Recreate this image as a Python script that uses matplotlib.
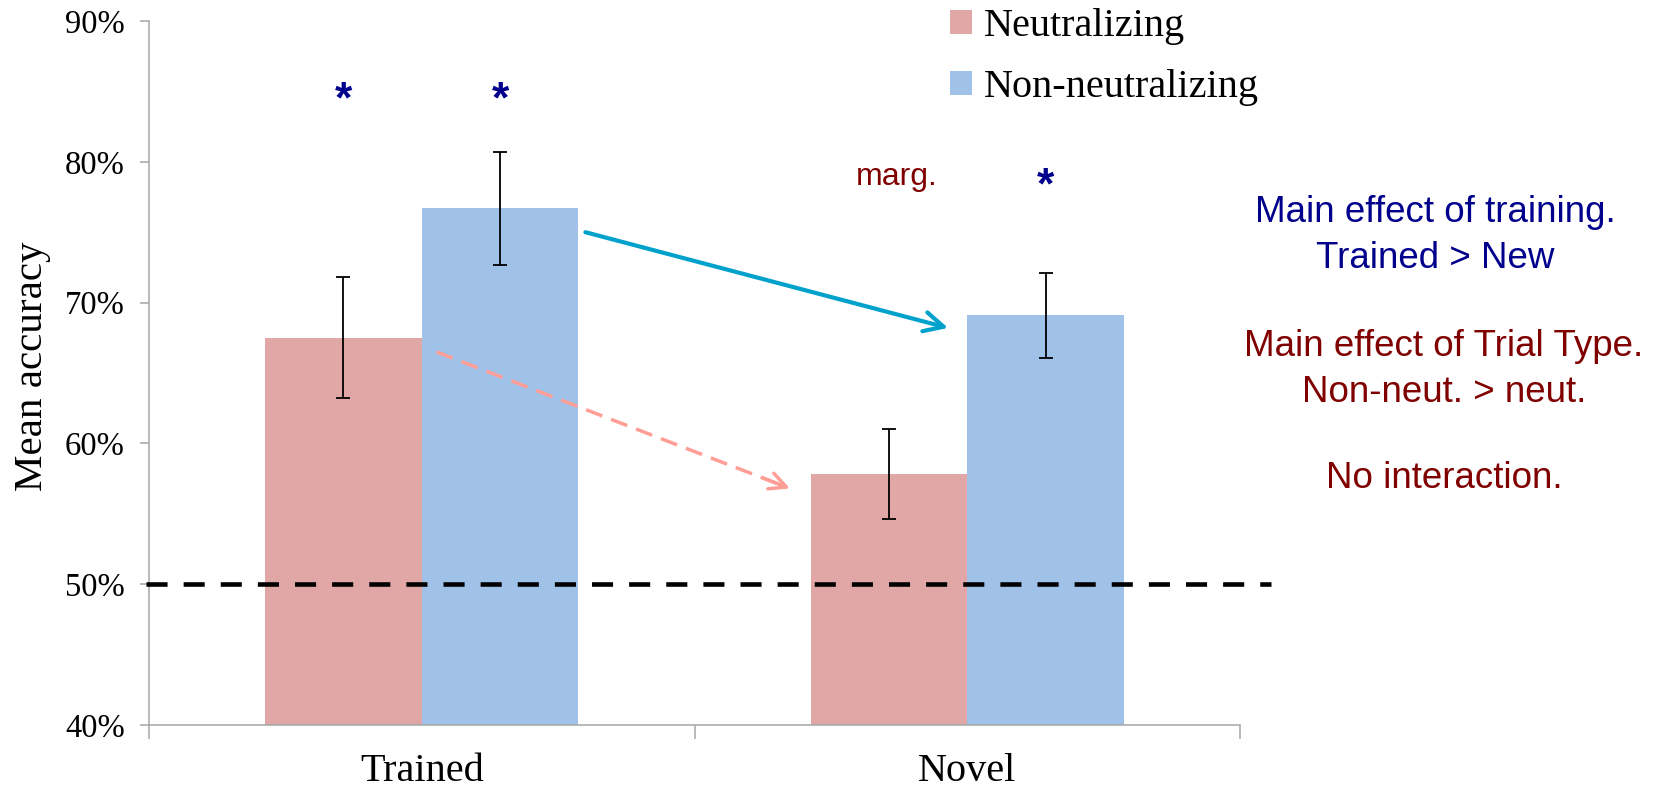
import numpy as np
import matplotlib.pyplot as plt

# ---- data ----
categories = ['Trained', 'Novel']
series = ['Neutralizing', 'Non-neutralizing']
neut_mean = [67.5, 57.8]
neut_err = [4.3, 3.2]
nonneut_mean = [76.7, 69.1]
nonneut_err = [4.0, 3.0]
yticks = [40, 50, 60, 70, 80, 90]
chance = 50

# significance marks: (x, y, text, colour)
sig_marks = [(0 - 0.1435, 84.3, '*', '#00008C'),
             (0 + 0.1435, 84.3, '*', '#00008C'),
             (1 - 0.130, 78.9, 'marg.', '#800000'),
             (1 + 0.1435, 78.2, '*', '#00008C')]

# arrows: (start, end)
blue_arrow = ((0.300, 75.0), (0.965, 68.2))
pink_arrow = ((0.027, 66.5), (0.675, 56.8))

notes = [('Main effect of training.', 1435, 212, '#00008C'),
         ('Trained > New', 1435, 258, '#00008C'),
         ('Main effect of Trial Type.', 1444, 346, '#800000'),
         ('Non-neut. > neut.', 1444, 392, '#800000'),
         ('No interaction.', 1444, 478, '#800000')]

pink = '#E1A7A6'
blue = '#A0C2E9'
grey = '#A6A6A6'
serif = ['Liberation Serif', 'DejaVu Serif']
sans = ['Liberation Sans', 'DejaVu Sans']

W, H = 1665, 791
fig = plt.figure(figsize=(W / 100, H / 100), dpi=100)
ax = fig.add_axes([149 / W, (H - 725) / H, (1240 - 149) / W, (725 - 21) / H])

x = np.arange(len(categories))
w = 0.287
b1 = ax.bar(x - w / 2, np.array(neut_mean) - 40, w, bottom=40, color=pink,
            label=series[0], zorder=2)
b2 = ax.bar(x + w / 2, np.array(nonneut_mean) - 40, w, bottom=40, color=blue,
            label=series[1], zorder=2)
ax.errorbar(x - w / 2, neut_mean, yerr=neut_err, fmt='none', ecolor='black',
            elinewidth=1.3, capsize=5, capthick=1.3, zorder=3)
ax.errorbar(x + w / 2, nonneut_mean, yerr=nonneut_err, fmt='none', ecolor='black',
            elinewidth=1.3, capsize=5, capthick=1.3, zorder=3)

# chance line
ax.plot([-0.505, 1.557], [chance, chance], color='black', lw=3.3,
        dashes=(4.6, 3.5), clip_on=False, zorder=4)

# arrows
ax.annotate('', xy=blue_arrow[1], xytext=blue_arrow[0],
            arrowprops=dict(arrowstyle='->', color='#00A2CC', lw=3,
                            mutation_scale=35, shrinkA=0, shrinkB=0), zorder=5)
(px0, py0), (px1, py1) = pink_arrow
ax.plot([px0, px1 - 0.01], [py0, py1 + 0.15], color='#FF9E96', lw=2.5,
        dashes=(5, 2.7), zorder=5)
ax.annotate('', xy=pink_arrow[1], xytext=(px1 - 0.05, py1 + 0.75),
            arrowprops=dict(arrowstyle='->', color='#FF9E96', lw=2.5,
                            mutation_scale=30, shrinkA=0, shrinkB=0), zorder=5)

for sx, sy, s, c in sig_marks:
    if s == '*':
        ax.text(sx, sy, s, color=c, fontsize=32, fontweight='bold',
                family=sans, ha='center', va='center')
    else:
        ax.text(sx, sy, s, color=c, fontsize=23, family=sans,
                ha='center', va='center')

# axes formatting
ax.set_xlim(-0.5, 1.5)
ax.set_ylim(40, 90)
ax.set_yticks(yticks)
ax.set_yticklabels([f'{v}%' for v in yticks], family=serif, fontsize=23.5)
ax.set_xticks([-0.5, 0.5, 1.5])
ax.set_xticklabels([])
ax.set_xticks(x, minor=True)
ax.set_xticklabels(categories, minor=True, family=serif, fontsize=29)
ax.tick_params(axis='x', which='major', length=10, width=1.1, color=grey,
               direction='out')
ax.tick_params(axis='x', which='minor', length=0, pad=20)
ax.tick_params(axis='y', length=6.5, width=1.1, color=grey, pad=11)
for side in ['top', 'right']:
    ax.spines[side].set_visible(False)
for side in ['left', 'bottom']:
    ax.spines[side].set_color(grey)
    ax.spines[side].set_linewidth(1.1)

fig.text(33 / W, 1 - 366 / H, 'Mean accuracy', rotation=90, family=serif,
         fontsize=29.5, ha='center', va='center')

ax.legend(handles=[b1, b2], loc='upper left', bbox_to_anchor=(950 / W, 1 - 8 / H),
          bbox_transform=fig.transFigure, frameon=False, borderpad=0,
          borderaxespad=0, handlelength=0.55, handleheight=0.55,
          handletextpad=0.3, labelspacing=0.6,
          prop={'family': serif, 'size': 29})

for txt, tx, ty, c in notes:
    fig.text(tx / W, 1 - ty / H, txt, color=c, family=sans, fontsize=26.5,
             ha='center', va='center')

fig.savefig('out.png', dpi=100)
